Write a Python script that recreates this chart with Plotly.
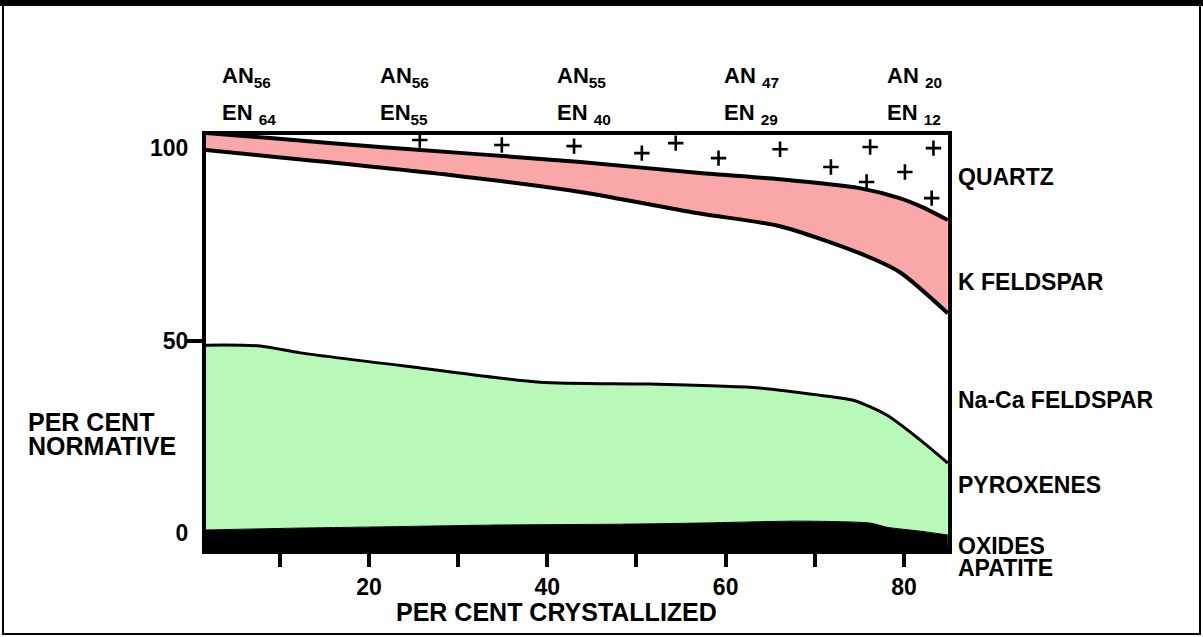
import plotly.graph_objects as go

# ---------------- data ----------------
# per cent crystallized (x) vs per cent normative (y), boundaries between mineral fields
oxides_x = [1.7, 12.3, 21.2, 34.7, 48.2, 57.1, 68.3, 76.2, 78.1, 81.8, 84.9]
oxides_y = [0.8, 1.3, 1.6, 2.1, 2.3, 2.6, 3.1, 2.6, 1.5, 0.5, -0.5]

pyroxene_x = [1.7, 7.8, 12.3, 25.7, 39.2, 51.5, 63.8, 70.6, 74.3, 78.1, 81.8, 84.9]
pyroxene_y = [48.8, 48.6, 46.8, 42.9, 39.2, 38.7, 37.7, 35.8, 34.5, 30.6, 24.2, 18.2]

nacafeld_x = [1.7, 29.1, 43.7, 57.1, 66.1, 75.0, 79.5, 84.9]
nacafeld_y = [99.5, 93.0, 88.6, 83.0, 79.7, 72.7, 67.8, 57.1]

kfeld_x = [1.7, 8.9, 21.2, 43.7, 57.1, 66.1, 75.0, 79.5, 82.3, 84.9]
kfeld_y = [103.9, 102.6, 100.3, 96.4, 93.5, 91.9, 89.6, 87.0, 84.4, 81.3]

quartz_x = [25.7, 34.9, 43.0, 50.6, 54.4, 59.2, 66.1, 71.8, 75.8, 76.2, 80.1, 83.1, 83.3]
quartz_y = [102.1, 100.8, 100.5, 98.7, 101.3, 97.4, 99.7, 95.1, 91.2, 100.3, 93.8, 87.0, 100.0]

x_ticks = [20, 40, 60, 80]
x_minor = [10, 30, 50, 70]
y_ticks = [0, 50, 100]
y_minor = [50]

an_values = ["56", "56", "55", "47", "20"]
en_values = ["64", "55", "40", "29", "12"]
an_space = ["", "", "", " ", " "]
en_space = [" ", "", " ", " ", " "]

field_labels = ["QUARTZ", "K FELDSPAR", "Na-Ca FELDSPAR", "PYROXENES", "OXIDES", "APATITE"]

# ---------------- layout constants ----------------
W, H = 1203, 637
L, R, T, B = 206, 948, 135, 550          # plot area in pixels
X_RANGE = [1.73, 84.93]
Y_RANGE = [-4.4, 103.4]

PINK = "#F9A7A7"
GREEN = "#B8F8B8"
FONT = "Liberation Sans, Arial, sans-serif"


def px_x(p):
    return (p - L) / (R - L)


def px_y(p):
    return (B - p) / (B - T)


fig = go.Figure()

# baseline at axis bottom so the oxide band reaches the frame
fig.add_trace(go.Scatter(x=X_RANGE, y=[Y_RANGE[0], Y_RANGE[0]], mode="lines",
                         line=dict(width=0, color="black"), hoverinfo="skip", showlegend=False))
fig.add_trace(go.Scatter(x=oxides_x, y=oxides_y, mode="lines",
                         line=dict(color="black", width=1, shape="spline", smoothing=0.6),
                         fill="tonexty", fillcolor="black", showlegend=False))
fig.add_trace(go.Scatter(x=pyroxene_x, y=pyroxene_y, mode="lines",
                         line=dict(color="black", width=3, shape="spline", smoothing=0.7),
                         fill="tonexty", fillcolor=GREEN, showlegend=False))
fig.add_trace(go.Scatter(x=nacafeld_x, y=nacafeld_y, mode="lines",
                         line=dict(color="black", width=4, shape="spline", smoothing=0.7),
                         showlegend=False))
fig.add_trace(go.Scatter(x=kfeld_x, y=kfeld_y, mode="lines",
                         line=dict(color="black", width=4, shape="spline", smoothing=0.7),
                         fill="tonexty", fillcolor=PINK, showlegend=False))
fig.add_trace(go.Scatter(x=quartz_x, y=quartz_y, mode="markers",
                         marker=dict(symbol="cross-thin", size=11,
                                     line=dict(width=2.6, color="black")),
                         cliponaxis=False, showlegend=False))

tickfont = dict(family=FONT, size=23, color="black", weight="bold")

fig.update_xaxes(range=X_RANGE, showline=True, linewidth=4, linecolor="black", mirror=True,
                 showgrid=False, zeroline=False,
                 tickmode="array", tickvals=x_ticks, ticks="outside", ticklen=13, tickwidth=4,
                 tickcolor="black", tickfont=tickfont,
                 minor=dict(tickmode="array", tickvals=x_minor, ticks="outside", ticklen=13,
                            tickwidth=4, tickcolor="black", showgrid=False))
fig.update_yaxes(range=Y_RANGE, showline=True, linewidth=4, linecolor="black", mirror=True,
                 showgrid=False, zeroline=False,
                 tickmode="array", tickvals=y_ticks, ticks="", tickfont=tickfont,
                 ticklabelstandoff=9,
                 minor=dict(tickmode="array", tickvals=y_minor, ticks="outside", ticklen=17,
                            tickwidth=4, tickcolor="black", showgrid=False))

ann = []
title_font = dict(family=FONT, size=25, color="black", weight="bold")
lab_font = dict(family=FONT, size=23, color="black", weight="bold")
top_font = dict(family=FONT, size=22, color="black", weight="bold")

# axis titles
ann.append(dict(text="PER CENT CRYSTALLIZED", x=px_x(556), y=px_y(612), xref="paper", yref="paper",
                showarrow=False, xanchor="center", yanchor="middle", font=title_font))
ann.append(dict(text="PER CENT", x=px_x(26), y=px_y(422), xref="paper", yref="paper",
                showarrow=False, xanchor="left", yanchor="middle", font=title_font))
ann.append(dict(text="NORMATIVE", x=px_x(26), y=px_y(446), xref="paper", yref="paper",
                showarrow=False, xanchor="left", yanchor="middle", font=title_font))

# field labels on the right
field_y = [177, 282, 400, 485, 546, 568]
for lab, py in zip(field_labels, field_y):
    ann.append(dict(text=lab, x=px_x(956), y=px_y(py), xref="paper", yref="paper",
                    showarrow=False, xanchor="left", yanchor="middle", font=lab_font))

# AN / EN compositions across the top
top_x = [220, 378, 555, 722, 885]
for px, a, e, sa, se in zip(top_x, an_values, en_values, an_space, en_space):
    ann.append(dict(text=f"AN{sa}<sub>{a}</sub>", x=px_x(px), y=px_y(77), xref="paper", yref="paper",
                    showarrow=False, xanchor="left", yanchor="middle", font=top_font))
    ann.append(dict(text=f"EN{se}<sub>{e}</sub>", x=px_x(px), y=px_y(114), xref="paper", yref="paper",
                    showarrow=False, xanchor="left", yanchor="middle", font=top_font))

shapes = [
    dict(type="rect", xref="paper", yref="paper", x0=px_x(3), x1=px_x(1200), y0=px_y(634), y1=px_y(3),
         line=dict(color="black", width=2), layer="above"),
    dict(type="line", xref="paper", yref="paper", x0=px_x(0), x1=px_x(1203), y0=px_y(3), y1=px_y(3),
         line=dict(color="black", width=6), layer="above"),
]

fig.update_layout(width=W, height=H, margin=dict(l=L, r=W - R, t=T, b=H - B, pad=0),
                  paper_bgcolor="white", plot_bgcolor="white",
                  font=dict(family=FONT, color="black"),
                  annotations=ann, shapes=shapes, showlegend=False)

fig.write_html("out.html")
